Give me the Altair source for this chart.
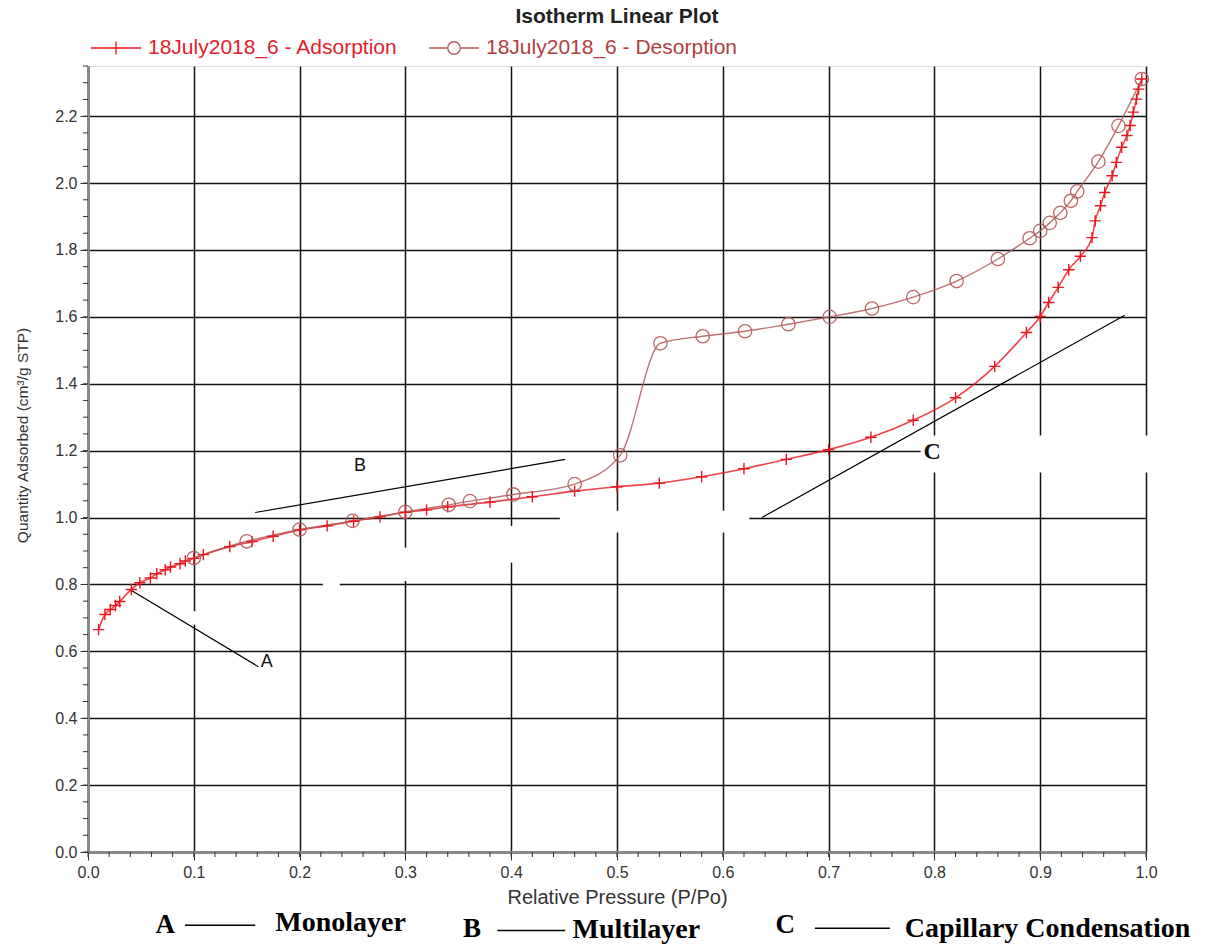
import altair as alt
import pandas as pd

# ---------------- data ----------------
P_ads = [0.010, 0.016, 0.021, 0.026, 0.030, 0.041, 0.049, 0.059, 0.065, 0.073,
         0.078, 0.087, 0.092, 0.100, 0.109, 0.134, 0.155, 0.175, 0.200, 0.226,
         0.251, 0.276, 0.300, 0.320, 0.340, 0.380, 0.420, 0.460, 0.500, 0.540,
         0.580, 0.620, 0.660, 0.700, 0.740, 0.780, 0.820, 0.857, 0.887, 0.900,
         0.908, 0.917, 0.927, 0.938, 0.949, 0.952, 0.957, 0.961, 0.968, 0.972,
         0.977, 0.982, 0.985, 0.988, 0.991, 0.993, 0.996]
Q_ads = [0.665, 0.710, 0.725, 0.737, 0.749, 0.785, 0.805, 0.819, 0.832, 0.844,
         0.852, 0.862, 0.870, 0.878, 0.889, 0.913, 0.928, 0.944, 0.963, 0.975,
         0.989, 1.002, 1.016, 1.023, 1.032, 1.046, 1.062, 1.079, 1.092, 1.103,
         1.122, 1.146, 1.174, 1.203, 1.240, 1.291, 1.358, 1.452, 1.553, 1.601,
         1.643, 1.688, 1.741, 1.781, 1.837, 1.887, 1.932, 1.972, 2.022, 2.062,
         2.107, 2.142, 2.172, 2.212, 2.251, 2.281, 2.311]

P_des = [0.100, 0.150, 0.200, 0.250, 0.300, 0.341, 0.361, 0.402, 0.460, 0.503,
         0.541, 0.581, 0.621, 0.662, 0.701, 0.741, 0.780, 0.821, 0.860, 0.890,
         0.900, 0.909, 0.919, 0.929, 0.935, 0.955, 0.974, 0.996]
Q_des = [0.879, 0.929, 0.964, 0.990, 1.017, 1.038, 1.049, 1.069, 1.100, 1.186,
         1.521, 1.542, 1.557, 1.578, 1.600, 1.625, 1.659, 1.707, 1.773, 1.835,
         1.857, 1.881, 1.911, 1.947, 1.975, 2.064, 2.171, 2.311]

series_names = ["18July2018_6 - Adsorption", "18July2018_6 - Desorption"]
series_colors = ["#e8161e", "#b25a5a"]
label_colors = ["#e3202a", "#b0403f"]

x_major = [0.0, 0.1, 0.2, 0.3, 0.4, 0.5, 0.6, 0.7, 0.8, 0.9, 1.0]
y_major = [0.0, 0.2, 0.4, 0.6, 0.8, 1.0, 1.2, 1.4, 1.6, 1.8, 2.0, 2.2]
x_minor = [round(i * 0.02, 2) for i in range(51)]
y_minor = [round(i * 0.05, 2) for i in range(48)]

# annotation pointer lines (A, B, C) in data units
ann_P0 = [0.040, 0.158, 0.637]
ann_Q0 = [0.784, 1.015, 1.000]
ann_P1 = [0.161, 0.451, 0.980]
ann_Q1 = [0.554, 1.174, 1.605]

# in-plot letters
let_text = ["A", "B"]
let_P = [0.169, 0.257]
let_Q = [0.569, 1.153]
c_P = [0.798]
c_Q = [1.195]

# key below the x axis
key_letters = ["A", "B", "C"]
key_letter_P = [0.073, 0.363, 0.659]
key_letter_Q = [-0.219, -0.229, -0.219]
key_line_P0 = [0.0917, 0.387, 0.687]
key_line_P1 = [0.158, 0.451, 0.758]
key_line_Q = [-0.219, -0.235, -0.228]
key_words = ["Monolayer", "Multilayer", "Capillary Condensation"]
key_word_P = [0.177, 0.458, 0.772]
key_word_Q = [-0.212, -0.232, -0.229]

# white patches that hide parts of the grid in the original picture
mask_P0 = [0.446, 0.390, 0.290, 0.222, 0.092, 0.787]
mask_P1 = [0.625, 0.410, 0.310, 0.238, 0.108, 1.003]
mask_Q0 = [0.955, 0.865, 0.810, 0.790, 0.680, 1.135]
mask_Q1 = [1.020, 0.975, 0.910, 0.810, 0.720, 1.245]

# ---------------- tables ----------------
ads = pd.DataFrame({"P": P_ads, "Q": Q_ads, "series": series_names[0]})
des = pd.DataFrame({"P": P_des, "Q": Q_des, "series": series_names[1]})
ann = pd.DataFrame({"P": ann_P0, "Q": ann_Q0, "P1": ann_P1, "Q1": ann_Q1})
lets = pd.DataFrame({"P": let_P, "Q": let_Q, "t": let_text})
cl = pd.DataFrame({"P": c_P, "Q": c_Q, "t": ["C"]})
kl = pd.DataFrame({"P": key_letter_P, "Q": key_letter_Q, "t": key_letters})
kline = pd.DataFrame({"P": key_line_P0, "P1": key_line_P1, "Q": key_line_Q})
kw = pd.DataFrame({"P": key_word_P, "Q": key_word_Q, "t": key_words})
masks = pd.DataFrame({"P": mask_P0, "P1": mask_P1, "Q": mask_Q0, "Q1": mask_Q1})
xm = pd.DataFrame({"P": x_minor})
ym = pd.DataFrame({"Q": y_minor})

W, H = 1058, 786
xs = alt.Scale(domain=[0, 1], nice=False, zero=False)
ys = alt.Scale(domain=[0, 2.35], nice=False, zero=False)
FONT = "Liberation Sans"
SERIF = "Liberation Serif"

x_axis = alt.Axis(values=x_major, format=".1f", grid=True, gridColor="#111111",
                  gridWidth=1.5, tickSize=8, tickColor="#333333", labelFont=FONT,
                  labelFontSize=16, labelColor="#333333", labelPadding=4,
                  labelFlush=False,
                  domainColor="#8a8a8a", domainWidth=3,
                  title="Relative Pressure (P/Po)", titleFont=FONT,
                  titleFontSize=20, titleFontWeight="normal", titleColor="#333333",
                  titleX=W / 2, titleY=45, titleAlign="center", titleBaseline="middle")
y_axis = alt.Axis(values=y_major, format=".1f", grid=True, gridColor="#111111",
                  gridWidth=1.5, tickSize=8, tickColor="#333333", labelFont=FONT,
                  labelFontSize=16, labelColor="#333333", labelPadding=3,
                  labelFlush=False,
                  domainColor="#8a8a8a", domainWidth=3,
                  title="Quantity Adsorbed (cm³/g STP)", titleFont=FONT,
                  titleFontSize=15.5, titleFontWeight="normal", titleColor="#333333",
                  titleX=-66, titleY=369, titleAlign="center", titleBaseline="middle",
                  titleAngle=270)

# every layer shares the same x / y definitions so the axes merge cleanly
X = alt.X("P:Q", scale=xs, axis=x_axis)
Y = alt.Y("Q:Q", scale=ys, axis=y_axis)

ads_line = alt.Chart(ads).mark_line(interpolate="monotone", color=series_colors[0],
                                    strokeWidth=1.6, opacity=0.8).encode(x=X, y=Y)

mask_layer = alt.Chart(masks).mark_rect(color="white").encode(
    x=X, x2="P1", y=Y, y2="Q1")

x_minor_ticks = alt.Chart(xm).mark_rule(color="#333333", strokeWidth=1).encode(
    x=X, y=alt.value(H), y2=alt.value(H + 5))
y_minor_ticks = alt.Chart(ym).mark_rule(color="#333333", strokeWidth=1).encode(
    y=Y, x=alt.value(-5), x2=alt.value(0))

ann_lines = alt.Chart(ann).mark_rule(color="black", strokeWidth=1.2).encode(
    x=X, y=Y, x2="P1", y2="Q1")

des_line = alt.Chart(des).mark_line(interpolate="monotone", color=series_colors[1],
                                    strokeWidth=1.4, opacity=0.85).encode(x=X, y=Y)

cross_path = "M-1,0H1M0,-1V1"
ads_pts = alt.Chart(ads).mark_point(shape=cross_path, filled=False, size=130,
                                    color=series_colors[0], strokeWidth=1.4,
                                    opacity=1).encode(x=X, y=Y)
des_pts = alt.Chart(des).mark_point(shape="circle", filled=False, size=180,
                                    color=series_colors[1], strokeWidth=1.3,
                                    opacity=0.9).encode(x=X, y=Y)

leg_ads = "M-1,0H1M0,-0.26V0.26"
leg_des = ("M-1,0H-0.25M0.25,0H1M-0.25,0A0.25,0.25 0 1 1 0.25,0"
           "A0.25,0.25 0 1 1 -0.25,0")
label_expr = ("datum.value == '" + series_names[0] + "' ? '" + label_colors[0]
              + "' : '" + label_colors[1] + "'")
legend_layer = alt.Chart(ads).transform_filter("false").mark_point(
    filled=False, opacity=1).encode(
    x=X, y=Y,
    color=alt.Color("series:N", scale=alt.Scale(domain=series_names, range=series_colors),
                    legend=alt.Legend(orient="none", legendX=2, legendY=-44,
                                      direction="horizontal", title=None,
                                      symbolSize=2500, symbolStrokeWidth=1.3,
                                      labelFont=FONT, labelFontSize=21,
                                      labelLimit=0, labelOffset=6,
                                      columnPadding=28, padding=0,
                                      labelColor={"expr": label_expr})),
    shape=alt.Shape("series:N", scale=alt.Scale(domain=series_names,
                                                 range=[leg_ads, leg_des])),
)

letters = alt.Chart(lets).mark_text(font=FONT, fontSize=18, color="#111111").encode(
    x=X, y=Y, text="t:N")
c_letter = alt.Chart(cl).mark_text(font=SERIF, fontSize=24, fontWeight="bold",
                                   color="#111111").encode(x=X, y=Y, text="t:N")

key_let = alt.Chart(kl).mark_text(font=SERIF, fontSize=27, fontWeight="bold",
                                  color="black").encode(x=X, y=Y, text="t:N")
key_ln = alt.Chart(kline).mark_rule(color="black", strokeWidth=1.5).encode(
    x=X, x2="P1", y=Y)
key_wd = alt.Chart(kw).mark_text(font=SERIF, fontSize=28, fontWeight="bold",
                                 color="black", align="left").encode(
    x=X, y=Y, text="t:N")

title = alt.Chart(ads).transform_filter("datum.P < 0.011").mark_text(
    text="Isotherm Linear Plot", font=FONT, fontSize=21, fontWeight="bold",
    color="#222222").encode(x=alt.value(W / 2), y=alt.value(-49))

chart = alt.layer(
    ads_line, mask_layer, x_minor_ticks, y_minor_ticks, ann_lines,
    des_line, ads_pts, des_pts, legend_layer, letters, c_letter,
    key_let, key_ln, key_wd, title,
).properties(
    width=W, height=H,
    autosize=alt.AutoSizeParams(type="none"),
    padding={"left": 88, "top": 66, "right": 73, "bottom": 92},
).configure_view(stroke="black", strokeWidth=1.2).configure(background="white")

chart.save("out.html", embed_options={"renderer": "svg", "actions": False})
